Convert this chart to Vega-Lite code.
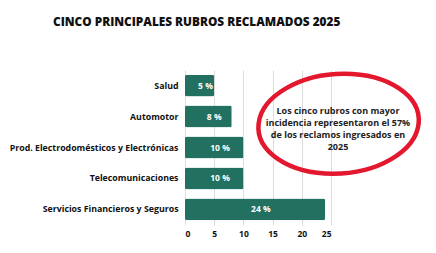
{
  "$schema": "https://vega.github.io/schema/vega-lite/v6.json",
  "width": 146,
  "height": 155,
  "autosize": {"type": "none"},
  "padding": {"left": 185, "top": 70, "right": 105, "bottom": 28},
  "background": "white",
  "config": {
    "view": {"stroke": null},
    "font": "Open Sans",
    "axisX": {
      "title": null,
      "values": [0, 5, 10, 15, 20, 25],
      "tickCount": 6,
      "labelOverlap": false,
      "ticks": false,
      "domain": false,
      "grid": true,
      "gridColor": "#dddddd",
      "labelFontSize": 8.5,
      "labelFontWeight": 700,
      "labelColor": "#111111",
      "labelPadding": 4
    }
  },
  "title": {
    "text": "CINCO PRINCIPALES RUBROS RECLAMADOS 2025",
    "anchor": "start",
    "frame": "group",
    "dx": -132,
    "offset": 36,
    "fontSize": 11.8,
    "fontWeight": 800,
    "color": "#111111",
    "font": "Open Sans"
  },
  "data": {
    "values": [
      {"rubro": "Salud", "valor": 5},
      {"rubro": "Automotor", "valor": 8},
      {"rubro": "Prod. Electrodomésticos y Electrónicas", "valor": 10},
      {"rubro": "Telecomunicaciones", "valor": 10},
      {"rubro": "Servicios Financieros y Seguros", "valor": 24}
    ]
  },
  "encoding": {
    "y": {
      "field": "rubro",
      "type": "nominal",
      "sort": null,
      "scale": {"paddingInner": 0.29, "paddingOuter": 0.15},
      "axis": {
        "title": null,
        "ticks": false,
        "domain": false,
        "labelFontSize": 8.8,
        "labelFontWeight": 700,
        "labelColor": "#111111",
        "labelPadding": 7,
        "labelLimit": 220
      }
    }
  },
  "layer": [
    {
      "mark": {"type": "bar", "color": "#22705f", "cornerRadius": 2},
      "encoding": {
        "x": {
          "field": "valor",
          "type": "quantitative",
          "scale": {"domain": [0, 25], "nice": false},
          "axis": {"title": null, "values": [0, 5, 10, 15, 20, 25], "labelOverlap": false}
        }
      }
    },
    {
      "transform": [
        {"calculate": "datum.valor / 2 + 1", "as": "mid"},
        {"calculate": "datum.valor + ' %'", "as": "lab"}
      ],
      "mark": {"type": "text", "color": "white", "fontSize": 8.5, "fontWeight": 700},
      "encoding": {
        "x": {"field": "mid", "type": "quantitative", "scale": {"domain": [0, 25], "nice": false},
          "axis": {"title": null, "values": [0, 5, 10, 15, 20, 25], "labelOverlap": false}},
        "text": {"field": "lab"}
      }
    },
    {
      "data": {"values": [{"x": 26.3, "y": "Automotor"}]},
      "mark": {
        "type": "point",
        "shape": "M -1 0.09 A 1 0.62 -4 1 1 1 0.09 A 1 0.62 -4 1 1 -1 0.09 Z",
        "size": 25600,
        "filled": false,
        "stroke": "#e3172d",
        "strokeWidth": 4.5,
        "opacity": 1
      },
      "encoding": {
        "x": {"field": "x", "type": "quantitative", "scale": {"domain": [0, 25], "nice": false},
          "axis": {"title": null, "values": [0, 5, 10, 15, 20, 25], "labelOverlap": false}},
        "y": {"field": "y", "type": "nominal"}
      }
    },
    {
      "data": {"values": [{"x": 26.2, "y": "Automotor", "t": ["Los cinco rubros con mayor", "incidencia representaron el 57%", "de los reclamos ingresados en", "2025"]}]},
      "mark": {"type": "text", "fontSize": 9, "fontWeight": 700, "color": "#222222", "lineHeight": 12, "baseline": "middle", "dy": -6},
      "encoding": {
        "x": {"field": "x", "type": "quantitative", "scale": {"domain": [0, 25], "nice": false},
          "axis": {"title": null, "values": [0, 5, 10, 15, 20, 25], "labelOverlap": false}},
        "y": {"field": "y", "type": "nominal"},
        "text": {"field": "t"}
      }
    }
  ]
}
